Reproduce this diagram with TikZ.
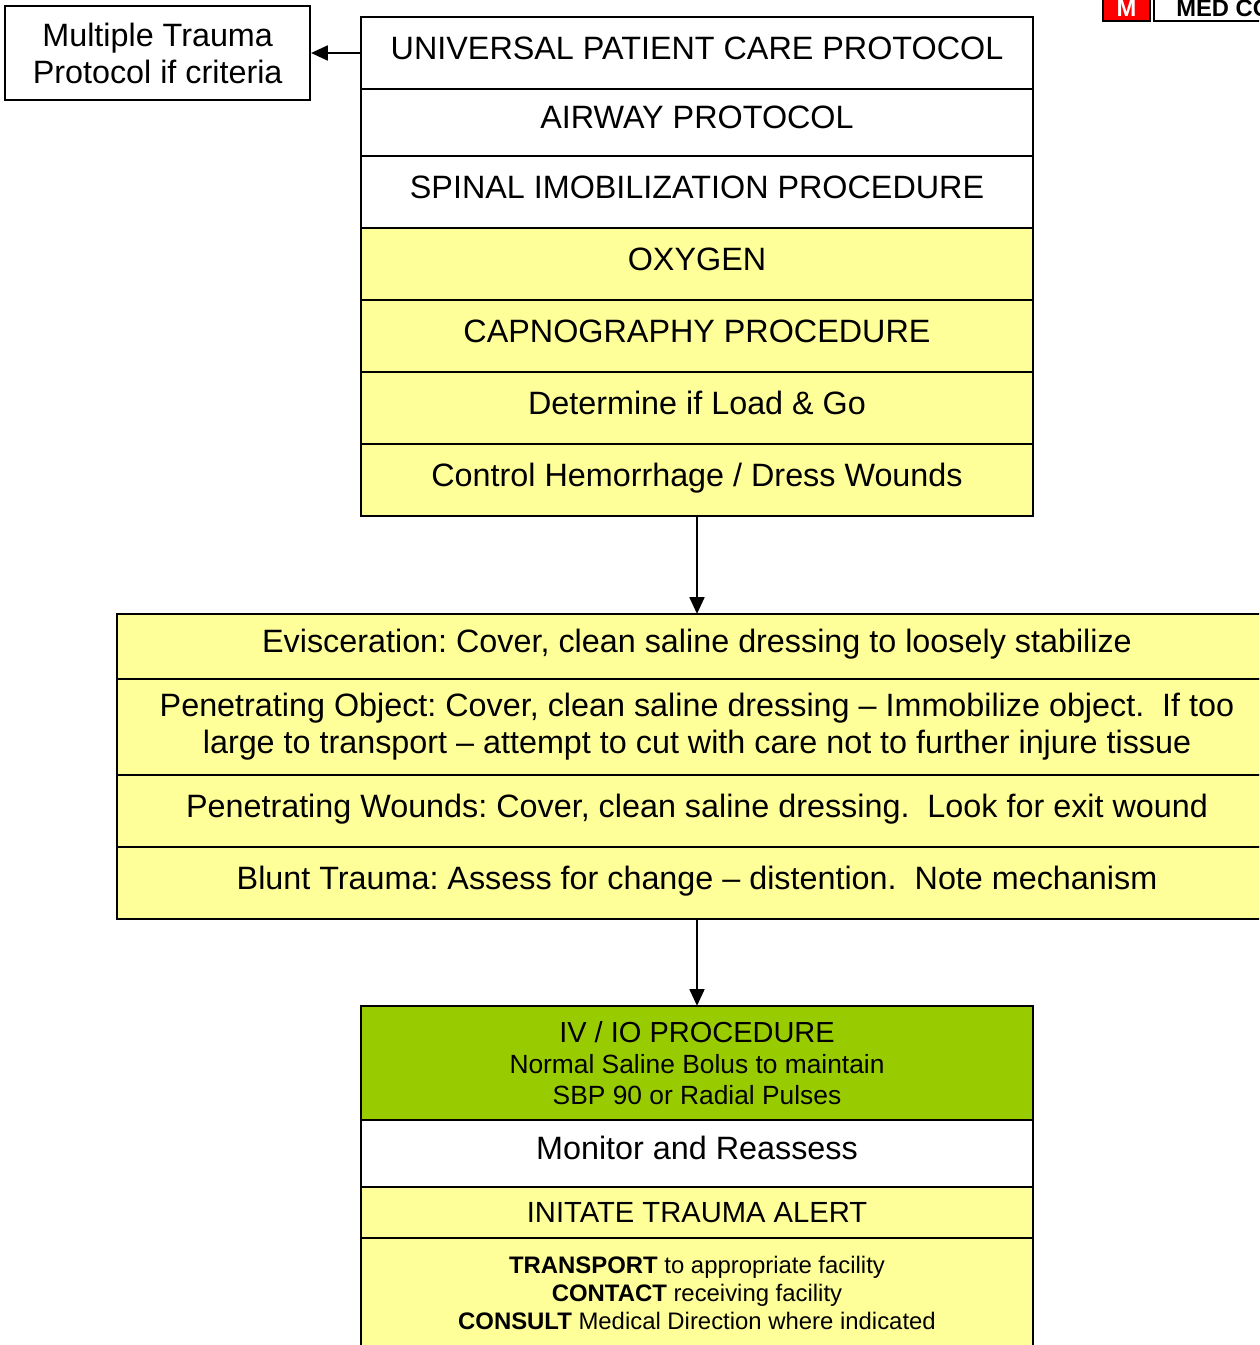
\documentclass[tikz,border=0pt]{standalone}
\usepackage{fontspec}
\setmainfont{Liberation Sans}
\usepackage{xcolor}
\usepackage{tikz}
\usetikzlibrary{arrows.meta, positioning}

\definecolor{cardyellow}{HTML}{FFFF99}
\definecolor{ivgreen}{HTML}{99CC00}
\frenchspacing

\begin{document}
\begin{tikzpicture}[
  x=0.02cm, y=-0.02cm,
  rowbox/.style={rectangle, draw, line width=1.1pt, fill=white, minimum width=13.44cm, align=center, inner sep=0pt, outer sep=0pt, font=\fontsize{18.4}{21}\selectfont},
  single/.style={text height=12.8pt, text depth=5.5pt},
  yrow/.style={rowbox, fill=cardyellow},
  wide/.style={yrow, minimum width=23.2cm},
  sidebox/.style={rectangle, draw, line width=1.1pt, fill=white, minimum width=6.1cm, minimum height=1.88cm, align=center, inner sep=0pt, font=\fontsize{18.4}{21}\selectfont},
  tag/.style={rectangle, draw, line width=1.1pt, minimum height=0.7cm, inner sep=0pt},
  arrow/.style={-{Triangle[length=9.5pt, width=8.5pt]}, line width=1.1pt},
]
  \clip (0,0) rectangle (1259,1345);

  % top stack
  \node[rowbox, single, minimum height=1.44cm] (upc) at (697,53) {UNIVERSAL PATIENT CARE PROTOCOL};
  \node[rowbox, single, minimum height=1.34cm, below=0pt of upc] (airway) {AIRWAY PROTOCOL};
  \node[rowbox, single, minimum height=1.44cm, below=0pt of airway] (spinal) {SPINAL IMOBILIZATION PROCEDURE};
  \node[yrow, single, minimum height=1.44cm, below=0pt of spinal] (oxygen) {OXYGEN};
  \node[yrow, single, minimum height=1.44cm, below=0pt of oxygen] (capno) {CAPNOGRAPHY PROCEDURE};
  \node[yrow, single, minimum height=1.44cm, below=0pt of capno] (loadgo) {Determine if Load \& Go};
  \node[yrow, single, minimum height=1.44cm, below=0pt of loadgo] (hemo) {Control Hemorrhage / Dress Wounds};

  \node[sidebox, left=1cm of upc] (trauma) {Multiple Trauma\\Protocol if criteria};
  \draw[arrow] (upc.west) -- (trauma.east);

  % wound care
  \node[wide, single, minimum height=1.3cm, below=1.96cm of hemo] (evisc) {Evisceration: Cover, clean saline dressing to loosely stabilize};
  \node[wide, minimum height=1.92cm, below=0pt of evisc] (penobj) {Penetrating Object: Cover, clean saline dressing -- Immobilize object.\ \ If too\\large to transport -- attempt to cut with care not to further injure tissue};
  \node[wide, single, minimum height=1.44cm, below=0pt of penobj] (penwound) {Penetrating Wounds: Cover, clean saline dressing.\ \ Look for exit wound};
  \node[wide, single, minimum height=1.44cm, below=0pt of penwound] (blunt) {Blunt Trauma: Assess for change -- distention.\ \ Note mechanism};
  \draw[arrow] (hemo.south) -- (evisc.north);

  % bottom stack
  \node[rowbox, fill=ivgreen, minimum height=2.28cm, below=1.74cm of blunt, font=\fontsize{15}{17.6}\selectfont] (ivio) {{\fontsize{16.5}{17.6}\selectfont IV / IO PROCEDURE}\\Normal Saline Bolus to maintain\\SBP 90 or Radial Pulses};
  \node[rowbox, single, minimum height=1.34cm, below=0pt of ivio] (monitor) {Monitor and Reassess};
  \node[yrow, minimum height=1.02cm, below=0pt of monitor, font=\fontsize{16.6}{19}\selectfont] (alert) {INITATE TRAUMA ALERT};
  \node[yrow, minimum height=2.2cm, below=0pt of alert, font=\fontsize{13.6}{15.9}\selectfont] (transport) {\textbf{TRANSPORT} to appropriate facility\\\textbf{CONTACT} receiving facility\\\textbf{CONSULT} Medical Direction where indicated};
  \draw[arrow] (blunt.south) -- (ivio.north);

  % corner tag
  \node[tag, fill=red, minimum width=0.94cm] (redtag) at (1126.5,3.5) {};
  \node[tag, fill=white, minimum width=3cm, right=0.04cm of redtag] (medtag) {};
  \node[anchor=base, inner sep=0pt, text=white, font=\fontsize{13.5}{16}\selectfont\bfseries] (mletter) at (1126.5,17) {M};
  \node[anchor=base west, inner sep=0pt, font=\fontsize{13.5}{16}\selectfont\bfseries] (medtext) at (1176,17) {MED CO};
\end{tikzpicture}
\end{document}
